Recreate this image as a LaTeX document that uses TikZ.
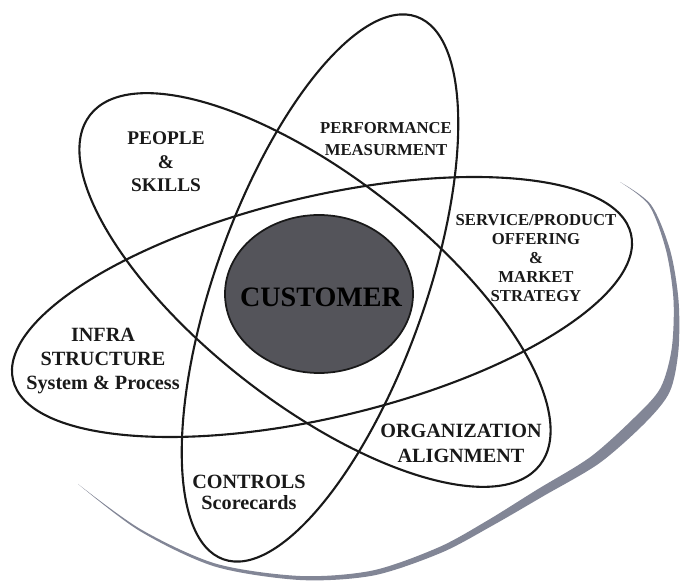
\documentclass[tikz,border=0pt]{standalone}
\usepackage{fontspec}
\setmainfont{Liberation Serif}
\usepackage{tikz}
\usetikzlibrary{calc}
\definecolor{orbitK}{RGB}{25,25,25}
\definecolor{coreG}{RGB}{84,84,90}
\definecolor{swooshG}{RGB}{130,134,150}
\tikzset{orbit/.style={draw=orbitK, line width=1.2pt},
  lblS/.style={font=\bfseries\fontsize{9.5}{12}\selectfont, align=center, text=orbitK},
  lblL/.style={font=\bfseries\fontsize{11.5}{13.6}\selectfont, align=center, text=orbitK}}

\begin{document}
\begin{tikzpicture}[x=0.02cm, y=0.02cm]
\useasboundingbox (0,0) rectangle (680,582);
% outer swoosh
\fill[swooshG]
  plot[smooth] coordinates {(620,400) (651,377.2) (670,332.2) (678.5,281.9) (678.4,231.3)
    (669.8,190.4) (645.5,159.5) (599.5,118.9) (543.2,85.8) (491.9,56.1) (441.1,29.2)
    (373.4,6.5) (299.8,2) (214.4,15.6) (139.4,51.2) (78,98)}
  -- plot[smooth] coordinates {(78,98) (140.6,52.8) (215.6,18.4) (300.2,6) (372.6,11.5)
    (438.9,34.8) (488.1,61.9) (536.8,92.2) (590.5,125.1) (634.5,164.5) (660.2,193.6)
    (671.6,232.7) (673.5,282.1) (666,331.8) (649,376.8) (620,400)} -- cycle;
% orbits
\draw[orbit, rotate around={70.4:(320,294)}] (320,294) ellipse [x radius=288, y radius=105];
\draw[orbit, rotate around={-37.9:(315,292)}] (315,292) ellipse [x radius=285, y radius=114];
\draw[orbit, rotate around={13.3:(322,275)}] (322,275) ellipse [x radius=317.5, y radius=110.5];
% core
\draw[line width=1pt, draw=orbitK, fill=coreG] (319,288) ellipse [x radius=94, y radius=79];
\node[font=\bfseries\fontsize{16}{18}\selectfont, text=black] (cust) at (321,285) {CUSTOMER};
% labels
\node[lblS, font=\bfseries\fontsize{9.5}{12.5}\selectfont] (perf) at (386,443) {PERFORMANCE\\MEASURMENT};
\node[lblL, font=\bfseries\fontsize{11}{13.3}\selectfont] (people) at (166,420) {PEOPLE\\\&\\SKILLS};
\node[lblS, font=\bfseries\fontsize{9.5}{10.9}\selectfont] (service) at (536,324) {SERVICE/PRODUCT\\OFFERING\\\&\\MARKET\\STRATEGY};
\node[lblL] (infra) at (103,221) {INFRA\\STRUCTURE\\System \& Process};
\node[lblL, font=\bfseries\fontsize{11.5}{14.2}\selectfont] (org) at (461,139) {ORGANIZATION\\ALIGNMENT};
\node[lblL, font=\bfseries\fontsize{11.5}{12}\selectfont] (ctrl) at (249,90) {CONTROLS\\Scorecards};
\end{tikzpicture}
\end{document}
